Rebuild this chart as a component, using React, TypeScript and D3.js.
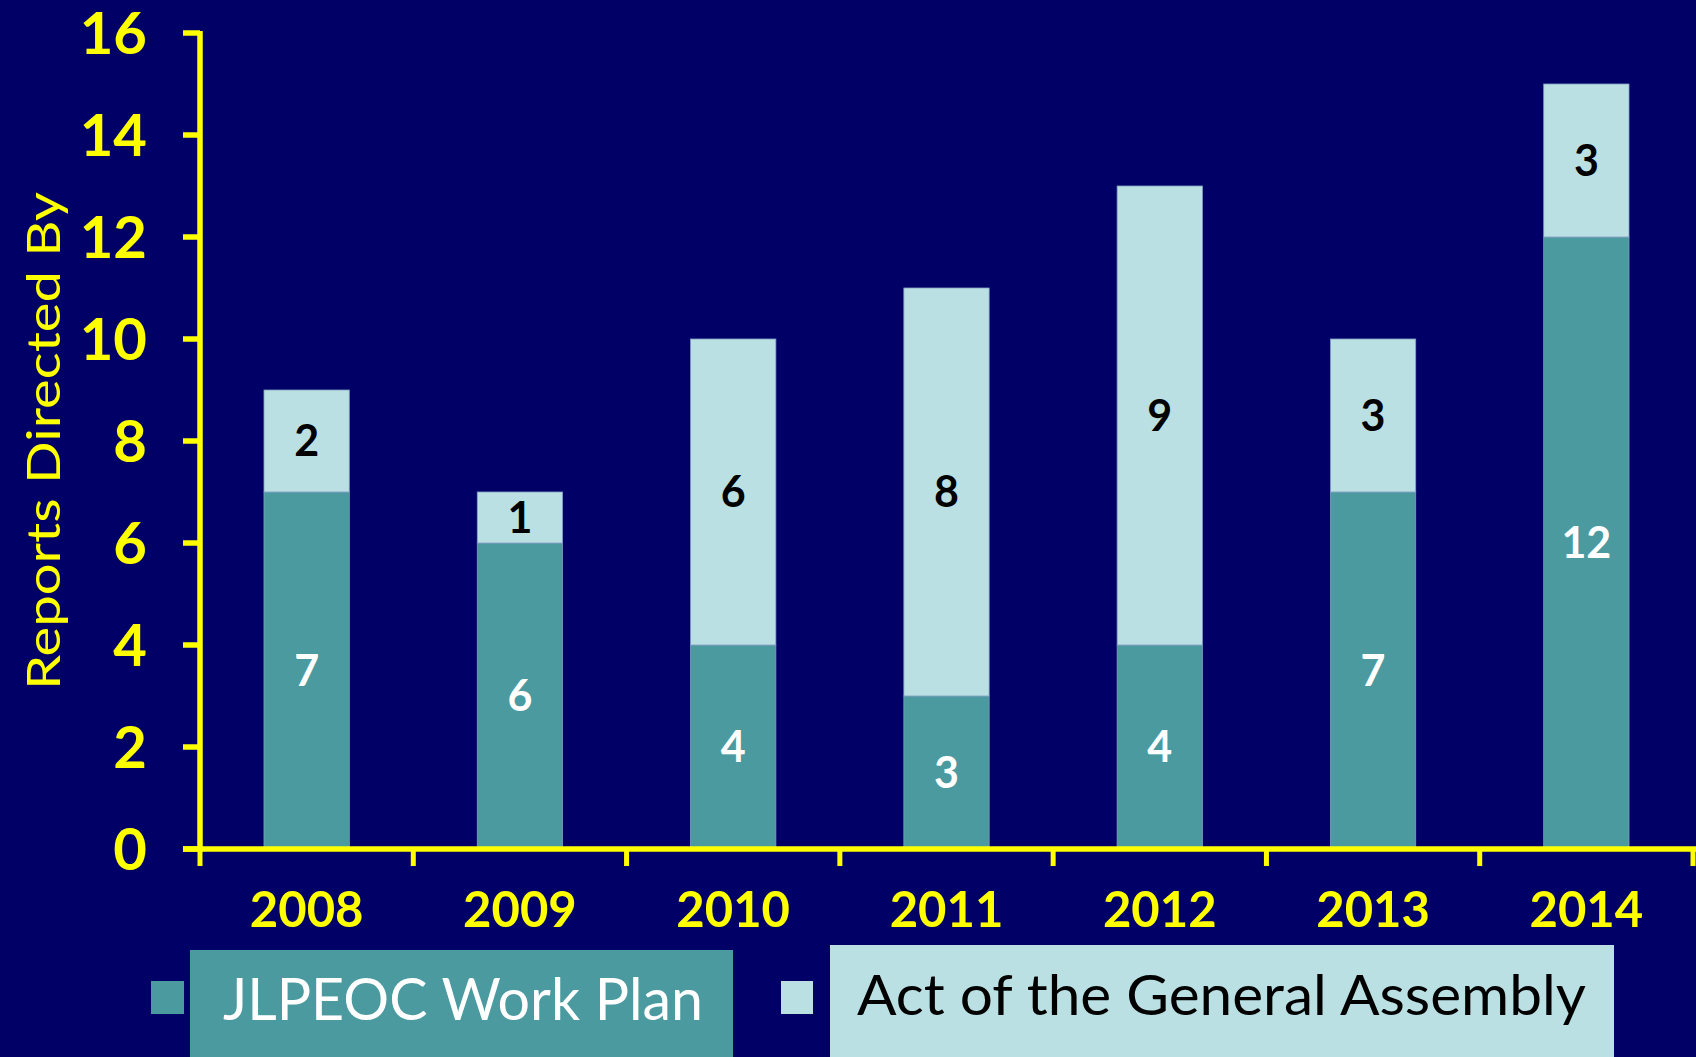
import React from "react";
import * as d3 from "d3";

const years = ["2008", "2009", "2010", "2011", "2012", "2013", "2014"];
const workPlan = [7, 6, 4, 3, 4, 7, 12];
const actGA = [2, 1, 6, 8, 9, 3, 3];
const yTicks = [0, 2, 4, 6, 8, 10, 12, 14, 16];
const seriesNames = ["JLPEOC Work Plan", "Act of the General Assembly"];

const W = 1696;
const H = 1057;
const BG = "#000066";
const YEL = "#FFFF00";
const TEAL = "#4A9AA0";
const LIGHT = "#BBE0E4";
const FONT = "Lato, 'Open Sans', sans-serif";

export default function App() {
  const band = d3.scaleBand<string>().domain(years).range([200, 1693]);
  const y = d3.scaleLinear().domain([0, 16]).range([849, 33]);

  const rows = years.map((yr, i) => ({ yr, a: workPlan[i], b: actGA[i] }));
  const stack = d3.stack<any>().keys(["a", "b"])(rows as any);
  const barW = band.bandwidth() * 0.4;

  return (
    <div style={{ position: "fixed", left: 0, top: 0 }}>
      <svg width={W} height={H} style={{ display: "block", background: BG }}>
        <rect x={0} y={0} width={W} height={H} fill={BG} />
        {stack.map((s, si) =>
          s.map((d, i) => {
            const x0 = band(years[i])! + band.bandwidth() / 2 - barW / 2;
            const top = y(d[1]);
            const bot = y(d[0]);
            const val = d[1] - d[0];
            return (
              <g key={`${si}-${i}`}>
                <rect x={x0} y={top} width={barW} height={bot - top} fill={si === 0 ? TEAL : LIGHT} stroke="#7f9fc0" strokeWidth={0.8} />
                <text x={x0 + barW / 2} y={(top + bot) / 2} dy="0.36em" textAnchor="middle" fill={si === 0 ? "#FFFFFF" : "#000000"} fontFamily={FONT} fontWeight={700} fontSize={43}>
                  {val}
                </text>
              </g>
            );
          })
        )}
        <line x1={200} x2={200} y1={31} y2={852} stroke={YEL} strokeWidth={5.5} />
        {yTicks.map((t) => (
          <g key={t}>
            <line x1={183} x2={200} y1={y(t)} y2={y(t)} stroke={YEL} strokeWidth={5.5} />
            <text x={147} y={y(t)} dy="0.36em" textAnchor="end" fill={YEL} fontFamily={FONT} fontWeight={700} fontSize={58}>
              {t}
            </text>
          </g>
        ))}
        <line x1={183} x2={1696} y1={y(0)} y2={y(0)} stroke={YEL} strokeWidth={5.5} />
        {years.concat(["end"]).map((yr, i) => {
          const xx = i < years.length ? band(yr)! : band(years[years.length - 1])! + band.bandwidth();
          return <line key={yr} x1={xx} x2={xx} y1={y(0)} y2={866} stroke={YEL} strokeWidth={5} />;
        })}
        {years.map((yr) => (
          <text key={yr} x={band(yr)! + band.bandwidth() / 2} y={927} textAnchor="middle" fill={YEL} fontFamily={FONT} fontWeight={700} fontSize={49}>
            {yr}
          </text>
        ))}
        <text transform="translate(60,441) rotate(-90)" textAnchor="middle" fill={YEL} fontFamily={FONT} fontSize={46} textLength={498} lengthAdjust="spacingAndGlyphs">
          Reports Directed By
        </text>
        <rect x={151} y={981} width={33} height={33} fill={TEAL} />
        <rect x={190} y={950} width={543} height={110} fill={TEAL} />
        <text x={223} y={1020} fill="#FFFFFF" fontFamily={FONT} fontSize={58} textLength={480} lengthAdjust="spacingAndGlyphs">
          {seriesNames[0]}
        </text>
        <rect x={781} y={981} width={32} height={33} fill={LIGHT} />
        <rect x={830} y={945} width={784} height={115} fill={LIGHT} />
        <text x={857} y={1015} fill="#000000" fontFamily={FONT} fontSize={56} textLength={729} lengthAdjust="spacingAndGlyphs">
          {seriesNames[1]}
        </text>
      </svg>
    </div>
  );
}
